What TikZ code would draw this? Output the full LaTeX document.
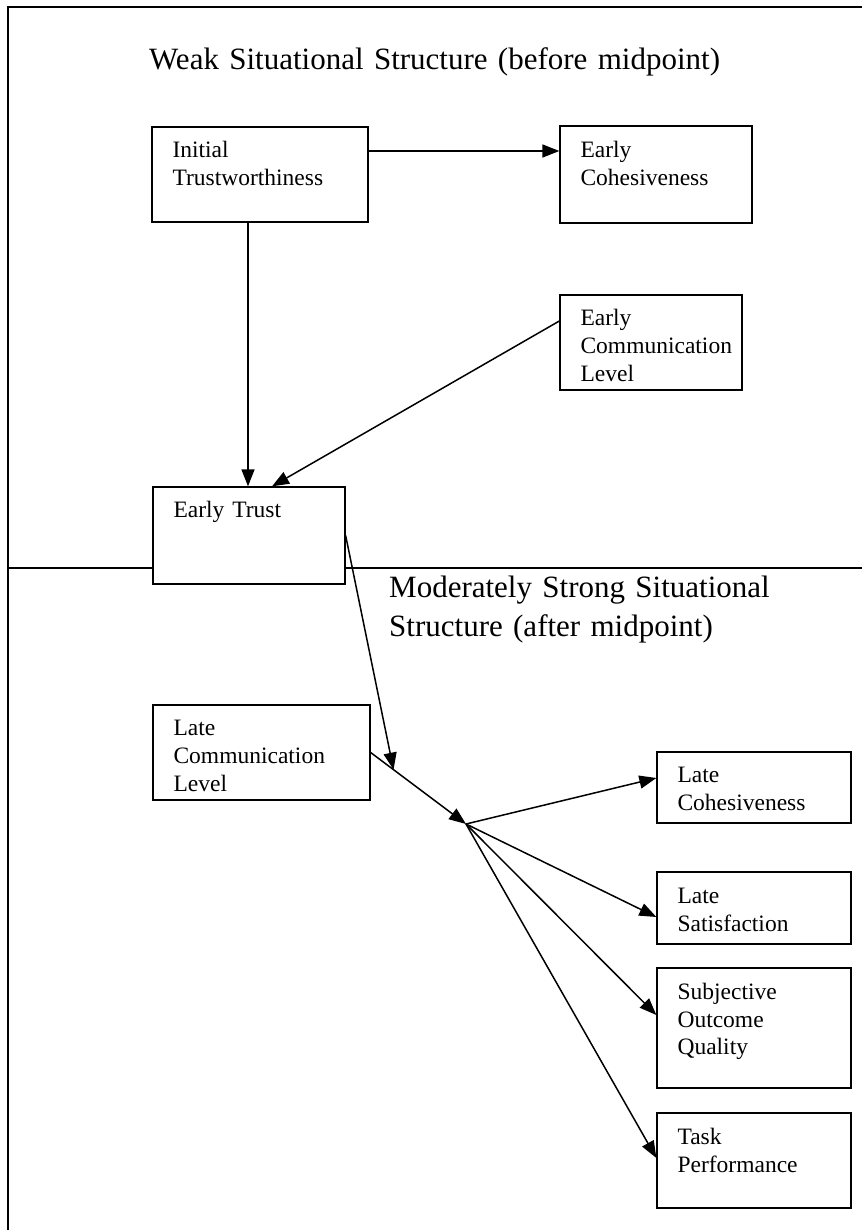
\documentclass[tikz,border=0pt]{standalone}
\usepackage{fontspec}
\setmainfont{Liberation Serif}
\usetikzlibrary{arrows.meta,calc}
\begin{document}
\begin{tikzpicture}[x=1pt,y=-1pt,
  box/.style={draw, line width=1.3pt, fill=white, inner sep=0pt},
  txt/.style={anchor=base west, inner sep=0pt, align=left, text width=200pt,
    font=\fontsize{23.5}{27.8}\selectfont},
  heading/.style={anchor=base west, inner sep=0pt, align=left, text width=700pt,
    font=\fontsize{31}{39}\selectfont},
  frameline/.style={line width=1.2pt},
  arr/.style={line width=1.5pt, -{Triangle[length=17pt,width=13pt]}}]
\useasboundingbox (0,0) rectangle (862,1230);

% outer frame and the midpoint divider
\coordinate (fTL) at (8,7);
\coordinate (fTR) at (862,7);
\coordinate (fBL) at (8,1230);
\coordinate (mL) at (8,568);
\coordinate (mR) at (862,568);
\draw[frameline] (fTR) -- (fTL) -- (fBL);
\draw[frameline] (mL) -- (mR);

% phase headings
\node[heading] (h1) at (149,70) {Weak Situational Structure (before midpoint)};
\node[heading] (h2) at (389,597) {Moderately Strong Situational\\Structure (after midpoint)};

% construct boxes
\node[box, minimum width=216pt, minimum height=95pt] (it)   at (260,174.5) {};
\node[box, minimum width=192pt, minimum height=97pt] (ec)   at (656,174.5) {};
\node[box, minimum width=182pt, minimum height=95pt] (ecl)  at (651,342.5) {};
\node[box, minimum width=192pt, minimum height=97pt] (et)   at (249,535.5) {};
\node[box, minimum width=217pt, minimum height=95pt] (lc)   at (261.5,752.5) {};
\node[box, minimum width=194pt, minimum height=71pt] (lcoh) at (754,787.5) {};
\node[box, minimum width=194pt, minimum height=72pt] (ls)   at (754,908) {};
\node[box, minimum width=194pt, minimum height=120pt] (soq) at (754,1028) {};
\node[box, minimum width=194pt, minimum height=95pt] (tp)   at (754,1160.5) {};

% box labels, set from the top left corner
\node[txt] (itT)   at ($(it.north west)+(21,31.5)$)   {Initial\\Trustworthiness};
\node[txt] (ecT)   at ($(ec.north west)+(21,32)$)     {Early\\Cohesiveness};
\node[txt] (eclT)  at ($(ecl.north west)+(21,31.5)$)  {Early\\Communication\\Level};
\node[txt] (etT)   at ($(et.north west)+(21,31.5)$)   {Early Trust};
\node[txt] (lcT)   at ($(lc.north west)+(21,31.5)$)   {Late\\Communication\\Level};
\node[txt] (lcohT) at ($(lcoh.north west)+(21,31.5)$) {Late\\Cohesiveness};
\node[txt] (lsT)   at ($(ls.north west)+(21,32)$)     {Late\\Satisfaction};
\node[txt] (soqT)  at ($(soq.north west)+(21,32)$)    {Subjective\\Outcome\\Quality};
\node[txt] (tpT)   at ($(tp.north west)+(21,32)$)     {Task\\Performance};

% early phase paths
\draw[arr] ([yshift=23.5pt]it.east) -- ([yshift=23.5pt]it.east -| ec.west);
\draw[arr] ([xshift=-12pt]it.south) -- ([xshift=-12pt]it.south |- et.north);
\draw[arr] ([yshift=21.5pt]ecl.west) -- ([xshift=23pt]et.north);

% moderation: early trust acts on the late communication path
\coordinate (hub) at (466,824);
\coordinate (mod) at ($(lc.east)!0.24!(hub)$);
\draw[arr] (et.east) -- (mod);
\draw[arr] (lc.east) -- (hub);

% late outcomes
\draw[arr] (hub) -- ([yshift=9.5pt]lcoh.west);
\draw[arr] (hub) -- ([yshift=-9pt]ls.west);
\draw[arr] (hub) -- ([yshift=13pt]soq.west);
\draw[arr] (hub) -- ([yshift=2.5pt]tp.west);
\end{tikzpicture}
\end{document}
